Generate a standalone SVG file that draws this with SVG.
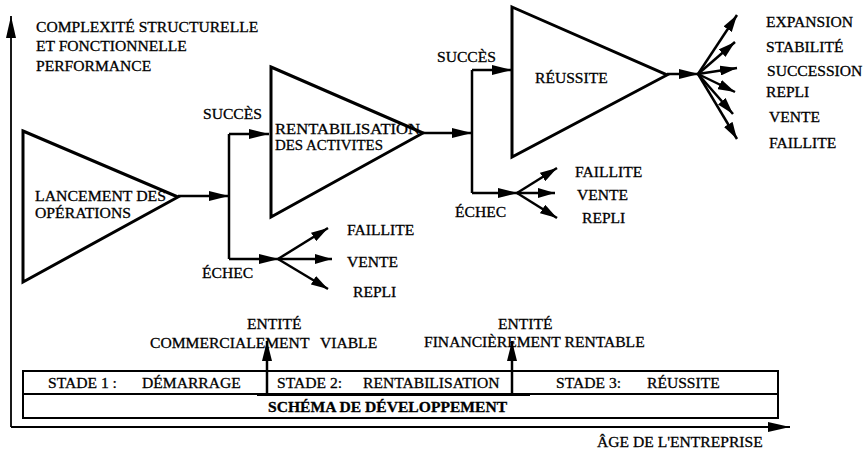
<svg xmlns="http://www.w3.org/2000/svg" width="865" height="454" viewBox="0 0 865 454">
<style>
text{font-family:"Liberation Serif","Times New Roman",serif;font-size:15.6px;fill:#000;stroke:#000;stroke-width:0.3}
.b{font-weight:bold}
.tri{fill:#fff;stroke:#000;stroke-width:3;stroke-linejoin:miter}
.ln{fill:none;stroke:#000;stroke-width:2.5}
.ar{fill:none;stroke:#000;stroke-width:2.5;marker-end:url(#ah)}
.fa{fill:none;stroke:#000;stroke-width:2.5;marker-end:url(#fh)}
.bar{fill:#fff;stroke:#000;stroke-width:2}
.ax{fill:none;stroke:#000;stroke-width:1.8;marker-end:url(#xh)}
</style>
<defs>
<marker id="ah" markerUnits="userSpaceOnUse" markerWidth="20" markerHeight="10" refX="20" refY="5" orient="auto"><path d="M0,0 L20,5 L0,10 Z" fill="#000"/></marker>
<marker id="fh" markerUnits="userSpaceOnUse" markerWidth="17" markerHeight="10" refX="17" refY="5" orient="auto"><path d="M0,0 L17,5 L0,10 Z" fill="#000"/></marker>
<marker id="xh" markerUnits="userSpaceOnUse" markerWidth="22" markerHeight="10" refX="22" refY="5" orient="auto"><path d="M0,0 L22,5 L0,10 Z" fill="#000"/></marker>
</defs>

<g id="axes">
<path class="ax" d="M11,427 L11,16"/>
<path class="ax" d="M11,427 L790,427"/>
<text id="y-label" x="36" y="32">COMPLEXITÉ STRUCTURELLE<tspan x="36" y="51">ET FONCTIONNELLE</tspan><tspan x="36" y="71">PERFORMANCE</tspan></text>
<text id="x-label" x="597" y="447">ÂGE DE L'ENTREPRISE</text>
</g>

<g id="node-lancement">
<polygon class="tri" points="23,131 178,197 23,282"/>
<text x="35" y="201" textLength="131" lengthAdjust="spacingAndGlyphs">LANCEMENT DES</text>
<text x="35" y="218" textLength="96" lengthAdjust="spacingAndGlyphs">OPÉRATIONS</text>
</g>

<g id="node-rentabilisation">
<polygon class="tri" points="271,67 423,133 271,217"/>
<text x="275" y="134" textLength="145" lengthAdjust="spacingAndGlyphs">RENTABILISATION</text>
<text x="275" y="150" textLength="108" lengthAdjust="spacingAndGlyphs">DES ACTIVITES</text>
</g>

<g id="node-reussite">
<polygon class="tri" points="512,7 667,75 512,157"/>
<text x="535" y="83">RÉUSSITE</text>
</g>

<g id="connectors">
<path class="ar" d="M178,196 L229,196"/>
<path class="ln" d="M229,134 L229,259"/>
<path class="ar" d="M229,134 L269,134"/>
<path class="ar" d="M229,259 L279,259"/>
<path class="fa" d="M278,259 L328,228"/>
<path class="fa" d="M278,259 L332,259"/>
<path class="fa" d="M278,259 L328,289"/>

<path class="ar" d="M423,133 L472,133"/>
<path class="ln" d="M472,70 L472,193"/>
<path class="ar" d="M472,70 L512,70"/>
<path class="ar" d="M472,193 L518,193"/>
<path class="fa" d="M517,193 L557,168"/>
<path class="fa" d="M517,193 L555,193"/>
<path class="fa" d="M517,193 L557,218"/>

<path class="ar" d="M667,74 L699,74"/>
<path class="fa" d="M698,74 L737,15"/>
<path class="fa" d="M698,74 L735,42"/>
<path class="fa" d="M698,74 L737,68"/>
<path class="fa" d="M698,74 L735,92"/>
<path class="fa" d="M698,74 L733,114"/>
<path class="fa" d="M698,74 L737,139"/>
</g>

<g id="labels-stage1">
<text x="203" y="119">SUCCÈS</text>
<text x="202" y="278">ÉCHEC</text>
<text x="347" y="235">FAILLITE</text>
<text x="347" y="267">VENTE</text>
<text x="353" y="297">REPLI</text>
</g>

<g id="labels-stage2">
<text x="437" y="62">SUCCÈS</text>
<text x="455" y="217">ÉCHEC</text>
<text x="575" y="177">FAILLITE</text>
<text x="577" y="200">VENTE</text>
<text x="582" y="223">REPLI</text>
</g>

<g id="labels-stage3">
<text x="766" y="27">EXPANSION</text>
<text x="766" y="52">STABILITÉ</text>
<text x="767" y="76">SUCCESSION</text>
<text x="766" y="97">REPLI</text>
<text x="769" y="122">VENTE</text>
<text x="769" y="148">FAILLITE</text>
</g>

<g id="development-bar">
<rect class="bar" x="23" y="371" width="755" height="47"/>
<line x1="23" y1="394" x2="778" y2="394" stroke="#000" stroke-width="2"/>
<line x1="257" y1="394.5" x2="530" y2="394.5" stroke="#000" stroke-width="3"/>
<text x="48" y="388">STADE 1 :<tspan x="142">DÉMARRAGE</tspan></text>
<text x="277" y="388">STADE 2:<tspan x="363">RENTABILISATION</tspan></text>
<text x="556" y="388">STADE 3:<tspan x="647">RÉUSSITE</tspan></text>
<text class="b" x="268" y="412">SCHÉMA DE DÉVELOPPEMENT</text>
</g>

<g id="milestone-1">
<path class="ar" d="M267,394 L267,341"/>
<text x="247" y="329">ENTITÉ</text>
<text x="150" y="348">COMMERCIALEMENT<tspan x="320">VIABLE</tspan></text>
</g>

<g id="milestone-2">
<path class="ar" d="M512,394 L512,341"/>
<text x="498" y="329">ENTITÉ</text>
<text x="424" y="347">FINANCIÈREMENT RENTABLE</text>
</g>
</svg>
